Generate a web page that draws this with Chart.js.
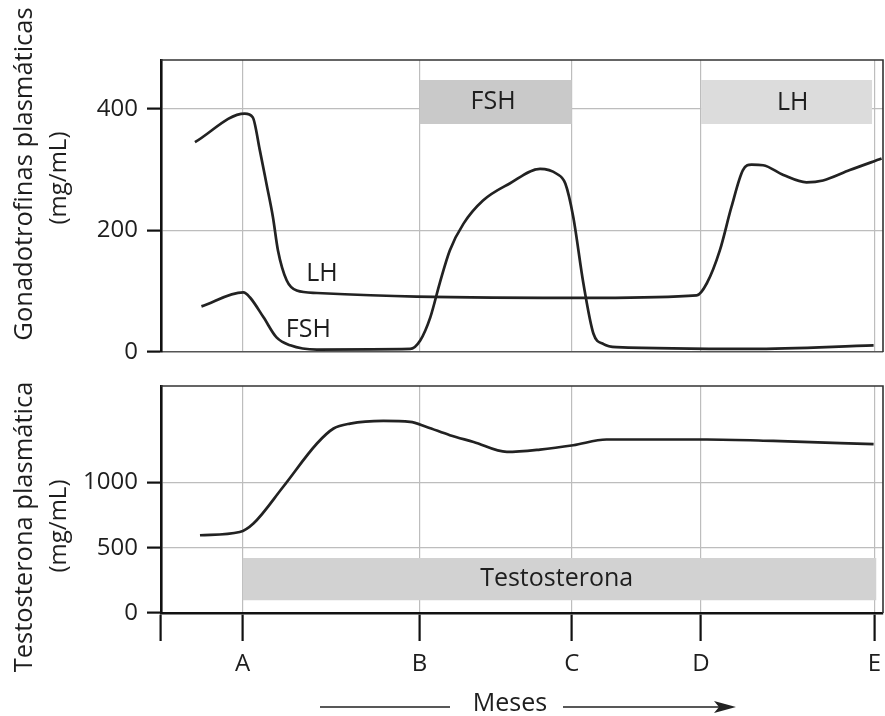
<!DOCTYPE html>
<html><head><meta charset="utf-8">
<script src="https://cdn.jsdelivr.net/npm/chart.js@4"></script>
<style>
html,body{margin:0;padding:0;background:#fff;}
#wrap{position:relative;width:885px;height:716px;overflow:hidden;}
#c1{position:absolute;left:0;top:0;}
#c2{position:absolute;left:0;top:368px;}
</style></head><body>
<div id="wrap"><canvas id="c1" width="885" height="368"></canvas><canvas id="c2" width="885" height="348"></canvas></div>
<script>
// ---- data ----
const monthLabels = ['A', 'B', 'C', 'D', 'E'];
const monthPositions = [11.3, 35.8, 56.9, 74.8, 98.8];
const gonadTicks = [0, 200, 400];
const testoTicks = [0, 500, 1000];

const lhX = [4.7, 11.6, 12.7, 13.7, 14.6, 15.5, 16.2, 17.4, 18.8, 21.6, 35.4, 60.8, 74.2, 75.6, 77.4, 79.0, 80.6, 81.8, 83.4, 86.2, 89.4, 91.7, 95.4, 99.8];
const lhY = [345, 392, 386, 331, 277, 222, 167, 118, 101, 97, 91, 89, 93, 113, 167, 238, 299, 308, 307, 291, 279, 282, 299, 318];

const fshX = [5.6, 11.4, 12.3, 14.2, 16.0, 17.9, 21.6, 34.5, 35.9, 37.3, 38.6, 40.0, 41.9, 44.6, 48.3, 52.5, 54.8, 56.0, 57.1, 58.5, 59.9, 61.3, 63.1, 81.7, 98.7];
const fshY = [75, 98, 90, 57, 24, 11, 4, 5, 19, 57, 113, 167, 211, 249, 277, 301, 293, 277, 222, 113, 30, 13, 8, 5, 11];

const testoX = [5.4, 10.9, 12.8, 16.9, 21.6, 23.9, 26.2, 30.8, 34.5, 36.8, 40.0, 43.3, 47.9, 52.5, 57.1, 61.7, 75.6, 84.8, 98.7];
const testoY = [596, 621, 686, 966, 1299, 1414, 1452, 1472, 1465, 1426, 1363, 1311, 1235, 1253, 1286, 1330, 1330, 1319, 1294];

// shaded periods: [xStart, xEnd, yLow, yHigh, label]
const fshBox = [35.8, 56.9, 375, 447, 'FSH'];
const lhBox = [74.8, 98.5, 375, 447, 'LH'];
const testoBox = [11.3, 99.1, 97, 422, 'Testosterona'];

const FONT = "'Open Sans', 'Noto Sans', sans-serif";
const INK = '#1e1e1e';
const GRID = '#bdbdbd';

function pts(xs, ys) { return xs.map((x, i) => ({ x: x, y: ys[i] })); }
function boxDs(b, color) {
  return { data: [{ x: b[0], y: b[3] }, { x: b[1], y: b[3] }], fill: { value: b[2] },
    backgroundColor: color, borderColor: 'rgba(0,0,0,0)', borderWidth: 0, pointRadius: 0, order: 5, tension: 0 };
}
function curveDs(xs, ys) {
  return { data: pts(xs, ys), borderColor: '#222', borderWidth: 2.7, pointRadius: 0, fill: false,
    cubicInterpolationMode: 'monotone', order: 1 };
}
function xTicks(scale) { scale.ticks = [0].concat(monthPositions).map(v => ({ value: v })); }

const textPlugin = {
  id: 'texts',
  afterDraw(chart, args, opts) {
    const ctx = chart.ctx, a = chart.chartArea;
    const xs = chart.scales.x, ys = chart.scales.y;
    ctx.save();
    // frame: top and right
    ctx.strokeStyle = '#333'; ctx.lineWidth = 1.6;
    ctx.beginPath();
    ctx.moveTo(a.left, a.top); ctx.lineTo(a.right, a.top); ctx.lineTo(a.right, a.bottom);
    ctx.stroke();
    ctx.fillStyle = INK;
    ctx.font = '25px ' + FONT;
    ctx.textAlign = 'center'; ctx.textBaseline = 'middle';
    (opts.boxes || []).forEach(b => {
      ctx.fillText(b.text, xs.getPixelForValue(b.x), ys.getPixelForValue(b.y));
    });
    (opts.titles || []).forEach(t => {
      ctx.save();
      ctx.font = t.size + 'px ' + FONT;
      ctx.translate(t.x, t.y);
      ctx.rotate(-Math.PI / 2);
      ctx.textAlign = 'center'; ctx.textBaseline = 'alphabetic';
      ctx.fillText(t.text, 0, 0);
      ctx.restore();
    });
    if (opts.meses) {
      const m = opts.meses;
      ctx.font = '25px ' + FONT;
      ctx.textAlign = 'center'; ctx.textBaseline = 'middle';
      ctx.fillText('Meses', m.x, m.y);
      ctx.strokeStyle = '#222'; ctx.lineWidth = 1.6;
      ctx.beginPath();
      ctx.moveTo(320, m.ly); ctx.lineTo(450, m.ly);
      ctx.moveTo(563, m.ly); ctx.lineTo(728, m.ly);
      ctx.stroke();
      ctx.fillStyle = '#222';
      ctx.beginPath();
      ctx.moveTo(736, m.ly); ctx.lineTo(714, m.ly - 6); ctx.lineTo(719, m.ly); ctx.lineTo(714, m.ly + 6);
      ctx.closePath(); ctx.fill();
    }
    ctx.restore();
  }
};

const commonY = (min, max, tickVals) => ({
  type: 'linear', min: min, max: max,
  afterFit(s) { s.width = 161; s.paddingTop = 0; s.paddingBottom = 0; },
  afterBuildTicks(s) { s.ticks = tickVals.map(v => ({ value: v })); },
  ticks: { color: INK, font: { family: FONT, size: 24 }, padding: 9, callback: v => String(v) },
  grid: { color: c => (c.tick && c.tick.value === 0) ? 'rgba(0,0,0,0)' : GRID, lineWidth: 1.2,
          tickLength: 14, tickColor: '#111', tickWidth: 2.2, drawTicks: true },
  border: { display: true, color: '#111', width: 2.6 }
});

Chart.defaults.font.family = FONT;

new Chart(document.getElementById('c1'), {
  type: 'line',
  data: { datasets: [
    curveDs(lhX, lhY),
    curveDs(fshX, fshY),
    boxDs(fshBox, '#c9c9c9'),
    boxDs(lhBox, '#dcdcdc')
  ] },
  options: {
    responsive: false, animation: false, devicePixelRatio: 1, events: [],
    layout: { padding: { top: 60, right: 2, left: 0, bottom: 0 } },
    plugins: {
      legend: { display: false }, tooltip: { enabled: false },
      texts: {
        boxes: [
          { text: fshBox[4], x: 46.0, y: 411 },
          { text: lhBox[4], x: 87.5, y: 409 },
          { text: 'LH', x: 22.3, y: 129 },
          { text: 'FSH', x: 20.4, y: 36 }
        ],
        titles: [
          { text: 'Gonadotrofinas plasmáticas', x: 32, y: 174, size: 25.5 },
          { text: '(mg/mL)', x: 66, y: 178, size: 24 }
        ]
      }
    },
    scales: {
      x: {
        type: 'linear', min: 0, max: 100,
        afterBuildTicks: xTicks,
        afterFit(s) { s.height = 16; s.paddingLeft = 0; s.paddingRight = 0; },
        ticks: { display: false },
        grid: { color: c => c.index === 0 ? 'rgba(0,0,0,0)' : GRID, lineWidth: 1.2, drawTicks: false },
        border: { display: true, color: '#555', width: 1.6 }
      },
      y: commonY(0, 480, gonadTicks)
    }
  },
  plugins: [textPlugin]
});

new Chart(document.getElementById('c2'), {
  type: 'line',
  data: { datasets: [
    curveDs(testoX, testoY),
    boxDs(testoBox, '#d2d2d2')
  ] },
  options: {
    responsive: false, animation: false, devicePixelRatio: 1, events: [],
    layout: { padding: { top: 18, right: 2, left: 0, bottom: 0 } },
    plugins: {
      legend: { display: false }, tooltip: { enabled: false },
      texts: {
        boxes: [ { text: testoBox[4], x: 54.8, y: 262 } ],
        titles: [
          { text: 'Testosterona plasmática', x: 32, y: 159, size: 25.5 },
          { text: '(mg/mL)', x: 66, y: 158, size: 24 }
        ],
        meses: { x: 510, y: 336, ly: 339 }
      }
    },
    scales: {
      x: {
        type: 'linear', min: 0, max: 100,
        afterBuildTicks: xTicks,
        afterFit(s) { s.height = 103; s.paddingLeft = 0; s.paddingRight = 0; },
        ticks: { color: INK, font: { family: FONT, size: 24 }, padding: 9, autoSkip: false, maxRotation: 0,
                 callback: (v, i) => i === 0 ? '' : monthLabels[i - 1] },
        grid: { color: c => c.index === 0 ? 'rgba(0,0,0,0)' : GRID, lineWidth: 1.2,
                tickLength: 28, tickColor: '#111', tickWidth: 2.2, drawTicks: true },
        border: { display: true, color: '#111', width: 2.6 }
      },
      y: commonY(0, 1740, testoTicks)
    }
  },
  plugins: [textPlugin]
});
</script>
</body></html>
